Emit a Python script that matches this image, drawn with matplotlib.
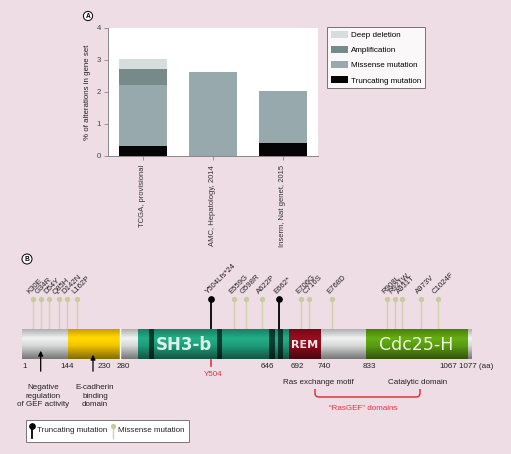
import numpy as np
import matplotlib
matplotlib.use("Agg")
import matplotlib.pyplot as plt
from matplotlib.patches import Rectangle, Circle, PathPatch
from matplotlib.path import Path

plt.rcParams["font.family"] = ["Liberation Sans", "DejaVu Sans"]

# ---- panel A data: % of alterations in gene set
studies = ["TCGA, provisional", "AMC, Hepatology, 2014", "Inserm, Nat genet, 2015"]
truncating = [0.31, 0.0, 0.41]
missense = [1.92, 2.63, 1.63]
amplification = [0.50, 0.0, 0.0]
deep_deletion = [0.30, 0.0, 0.0]

alt_names = ["Truncating mutation", "Missense mutation", "Amplification", "Deep deletion"]
alt_colors = ["#050505", "#98a9ae", "#768a89", "#d5dedc"]

# ---- panel B data: protein schematic (positions along the drawn track)
mut_labels = ["K30E", "G34R", "D54Y", "Q85H", "D142N", "L162P", "Y504Lfs*24",
              "E559G", "G598R", "A622P", "E662*", "E706G", "C716S", "E768D",
              "R908L", "R921W", "A931T", "A973V", "C1024F"]
mut_kind = ["missense"] * 6 + ["truncating"] + ["missense"] * 3 + ["truncating"] + ["missense"] * 8
mut_track = [32.7, 40.7, 49, 58.5, 67.3, 76.8, 211, 234, 246, 262, 279,
             301, 309, 332, 387, 394.5, 401.5, 421, 437.5]

seg_start = [22, 68, 120, 138, 289, 321, 366, 468]
seg_end = [68, 119.5, 138, 289, 321, 366, 468, 472]
seg_color = ["#d6d9d7", "#f0c400", "#d6d9d7", "#1f9c7a", "#8a0c1c", "#d6d9d7", "#5a9c12", "#d6d9d7"]
band_start = [148.5, 216.5, 268.5, 278]
band_end = [153, 221, 274, 283]

dom_names = ["SH3-b", "REM", "Cdc25-H"]
dom_center = [184, 305, 416]

res_ticks = ["1", "144", "230", "280", "646", "692", "740", "833", "1067", "1077 (aa)"]
res_track = [25, 67, 104, 123, 267, 297, 324, 369, 448, 476]

bg = "#efdde6"
fig = plt.figure(figsize=(5.11, 4.54), dpi=100, facecolor=bg)
W, H = 511, 454

# ================= panel A =================
ax = fig.add_axes([108 / W, 1 - 156 / H, 210 / W, 128 / H])
x = np.arange(len(studies))
bottom = np.zeros(len(studies))
for vals, name, col in zip([truncating, missense, amplification, deep_deletion], alt_names, alt_colors):
    ax.bar(x, vals, width=0.69, bottom=bottom, color=col, label=name, linewidth=0)
    bottom += np.array(vals)
ax.set_xlim(-0.5, 2.5)
ax.set_ylim(0, 4)
ax.set_yticks([0, 1, 2, 3, 4])
ax.set_xticks(x)
ax.set_xticklabels(studies, rotation=90, fontsize=5.5, color="#333")
ax.tick_params(axis="y", labelsize=5.6, labelcolor="#444", length=3, width=0.6, color="#888", pad=2)
ax.tick_params(axis="x", length=3, width=0.6, color="#888", pad=3.5)
for s in ["top", "right"]:
    ax.spines[s].set_visible(False)
for s in ["left", "bottom"]:
    ax.spines[s].set_color("#888")
    ax.spines[s].set_linewidth(0.7)
ax.set_ylabel("% of alterations in gene set", fontsize=5.7, color="#222", labelpad=4)

handles, labels = ax.get_legend_handles_labels()
leg = ax.legend(handles[::-1], labels[::-1], loc="upper left",
                bbox_to_anchor=(327 / W, 1 - 27 / H), bbox_transform=fig.transFigure,
                fontsize=5.8, frameon=True, fancybox=False, edgecolor="#555",
                handlelength=2.1, handleheight=1.0, labelspacing=0.85,
                handletextpad=0.45, borderpad=0.45, borderaxespad=0)
leg.get_frame().set_linewidth(0.7)

# ================= panel B (schematic track in pixel-like units) =================
ov = fig.add_axes([0, 0, 1, 1])
ov.set_xlim(0, W)
ov.set_ylim(H, 0)
ov.axis("off")
ov.patch.set_visible(False)


def circled(cx, cy, letter, r):
    ov.add_patch(Circle((cx, cy), r, facecolor="white", edgecolor="black", lw=0.7))
    ov.text(cx, cy + 0.3, letter, ha="center", va="center", fontsize=4.8, fontweight="bold")


circled(88, 16, "A", 4.6)
circled(27, 259, "B", 5)

bar_top, bar_bot = 329, 359


def tube(x0, x1, color, z=2):
    base = np.array(matplotlib.colors.to_rgb(color))
    t = np.linspace(0, 1, 40)
    f = np.interp(t, [0, 0.3, 0.55, 1], [0.82, 1.12, 1.0, 0.55])
    img = np.clip(base[None, :] * f[:, None], 0, 1)[:, None, :]
    ov.imshow(img, extent=(x0, x1, bar_bot, bar_top), aspect="auto", origin="upper",
              interpolation="bilinear", zorder=z)


for a, b, c in zip(seg_start, seg_end, seg_color):
    tube(a, b, c)
for a, b in zip(band_start, band_end):
    tube(a, b, "#0c3a2e", z=3)
ov.plot([119.8, 119.8], [bar_top, bar_bot], color="white", lw=1.0, zorder=4)

ov.text(dom_center[0], 345, dom_names[0], color="#d9f2ea", fontsize=12, fontweight="bold",
        ha="center", va="center", zorder=5, family="DejaVu Sans")
ov.text(dom_center[1], 345, dom_names[1], color="#f4e6e6", fontsize=8, fontweight="bold",
        ha="center", va="center", zorder=5, family="DejaVu Sans")
ov.text(dom_center[2], 345, dom_names[2], color="#eef5de", fontsize=12.5,
        ha="center", va="center", zorder=5, family="DejaVu Sans")

# lollipops
for lab, kind, xp in zip(mut_labels, mut_kind, mut_track):
    if kind == "truncating":
        ov.plot([xp, xp], [299, bar_top], color="black", lw=1.3, zorder=1)
        ov.plot(xp, 299, "o", ms=3.8, color="black", zorder=2)
    else:
        ov.plot([xp, xp], [299, bar_top], color="#d1d1ad", lw=1.0, zorder=1)
        ov.plot(xp, 299, "o", ms=3.8, color="#c8cb9e", mec="none", zorder=2)
    ov.text(xp - 1.5, 295.5, lab, rotation=45, rotation_mode="anchor", ha="left", va="bottom",
            fontsize=5.6, color="#222")

# residue numbers
for lab, xp in zip(res_ticks, res_track):
    ov.text(xp, 367, lab, ha="center", va="center", fontsize=5.8, color="#222")

# Y504 marker
ov.plot([211, 211], [360, 366], color="#e63341", lw=1.2)
ov.text(213, 375, "Y504", ha="center", va="center", fontsize=5.8, color="#e63341")

# arrows and notes
for xa, ytip in [(40.7, 348), (93, 352)]:
    ov.annotate("", xy=(xa, ytip), xytext=(xa, 374),
                arrowprops=dict(arrowstyle="-|>", color="black", lw=0.9, mutation_scale=7))
ov.text(43, 396, "Negative\nregulation\nof GEF activity", ha="center", va="center",
        fontsize=5.8, linespacing=1.25, color="#222")
ov.text(95, 396, "E-cadherin\nbinding\ndomain", ha="center", va="center",
        fontsize=5.8, linespacing=1.25, color="#222")
ov.text(318, 382, "Ras exchange motif", ha="center", va="center", fontsize=5.8, color="#222")
ov.text(418, 382, "Catalytic domain", ha="center", va="center", fontsize=5.8, color="#222")

red = "#e63341"
bx0, bx1, by0, by1 = 315, 420, 389, 397
verts = [(bx0, by0), (bx0, by1 - 4), (bx0, by1), (bx0 + 4, by1), (bx1 - 4, by1),
         (bx1, by1), (bx1, by1 - 4), (bx1, by0)]
codes = [Path.MOVETO, Path.LINETO, Path.CURVE3, Path.CURVE3, Path.LINETO,
         Path.CURVE3, Path.CURVE3, Path.LINETO]
ov.add_patch(PathPatch(Path(verts, codes), fill=False, edgecolor=red, lw=1.1))
ov.text(363, 408, "\u201cRasGEF\u201d domains", ha="center", va="center", fontsize=5.8, color=red)

# legend for panel B
ov.add_patch(Rectangle((26, 420), 163, 22, facecolor="white", edgecolor="#777", lw=0.7))
ov.plot([32, 32], [426, 438], color="black", lw=1.3)
ov.plot(32, 426, "o", ms=3.8, color="black")
ov.text(37, 431, "Truncating mutation", ha="left", va="center", fontsize=5.8, color="#222")
ov.plot([113, 113], [426, 438], color="#d1d1ad", lw=1.0)
ov.plot(113, 426, "o", ms=3.8, color="#c8cb9e", mec="none")
ov.text(118, 431, "Missense mutation", ha="left", va="center", fontsize=5.8, color="#222")

fig.savefig("out.png", dpi=100, facecolor=fig.get_facecolor())
